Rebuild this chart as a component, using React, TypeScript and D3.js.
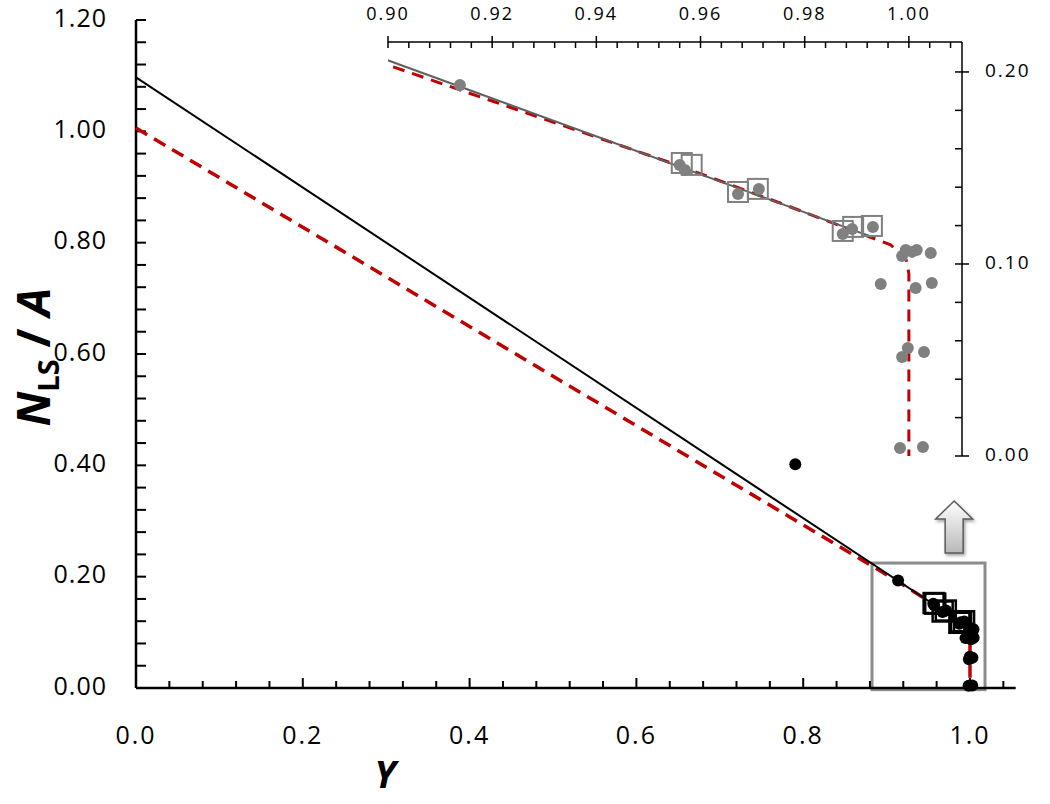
import React from 'react';
import * as d3 from 'd3';

// fitted lines
const fitY = [0, 0.993];
const fitN = [1.097, 0.114];
const modelY = [0, 0.9, 0.955, 0.975, 0.9965, 0.9995, 1.0, 1.0];
const modelN = [1.006, 0.2036, 0.152, 0.132, 0.11, 0.102, 0.095, 0];

// measured points
const dotY = [0.7905, 0.9138, 0.957, 0.956, 0.9672, 0.9712, 0.9873, 0.9891, 0.9931, 0.9987, 0.9994, 1.0006, 1.0015, 1.0042, 0.9946, 1.0013, 1.0044, 0.9998, 0.9987, 1.0029, 0.9983, 1.0027];
const dotN = [0.402, 0.1932, 0.149, 0.1515, 0.1365, 0.1391, 0.1156, 0.1182, 0.1193, 0.1042, 0.1073, 0.1063, 0.1073, 0.1057, 0.0896, 0.0875, 0.0901, 0.0563, 0.0516, 0.0542, 0.0042, 0.0047];
const squareY = [0.9564, 0.9583, 0.9672, 0.971, 0.9873, 0.9893, 0.9929];
const squareN = [0.1526, 0.1516, 0.1375, 0.1391, 0.1172, 0.1193, 0.1198];

// tick labels
const mainXLabels = ['0.0', '0.2', '0.4', '0.6', '0.8', '1.0'];
const mainYLabels = ['0.00', '0.20', '0.40', '0.60', '0.80', '1.00', '1.20'];
const insetXLabels = ['0.90', '0.92', '0.94', '0.96', '0.98', '1.00'];
const insetYLabels = ['0.00', '0.10', '0.20'];

// zoom box and arrow (data units of the main chart)
const boxY = [0.8825, 1.018];
const boxN = [-0.003, 0.2245];
const arrowY = 0.981;
const arrowN = [0.2425, 0.336];

const FONT = "'Open Sans', sans-serif";

const App = () => {
  const W = 1050, H = 804;

  const x = d3.scaleLinear().domain([0, 1.05]).range([136, 136 + 1.05 * 834]);
  const y = d3.scaleLinear().domain([0, 1.2]).range([688, 20]);

  const xi = d3.scaleLinear().domain([0.9, 1.0102]).range([388, 962]);
  const yi = d3.scaleLinear().domain([0, 0.2156]).range([456, 42]);

  const fit = fitY.map((v, i) => [v, fitN[i]] as [number, number]);
  const model = modelY.map((v, i) => [v, modelN[i]] as [number, number]);
  const dots = dotY.map((v, i) => [v, dotN[i]]);
  const squares = squareY.map((v, i) => [v, squareN[i]]);

  const lineMain = d3.line<[number, number]>().x(d => x(d[0])).y(d => y(d[1]));
  const lineInset = d3.line<[number, number]>().x(d => xi(d[0])).y(d => yi(d[1]));

  const mainXTicks = d3.range(0, 27).map(i => i * 0.04);
  const mainYTicks = d3.range(0, 31).map(i => i * 0.04);
  const insetXTicks = d3.range(0, 28).map(i => 0.9 + i * 0.004);
  const insetYTicks = d3.range(0, 11).map(i => i * 0.02);

  const isMajor = (v: number, step: number) => Math.abs(v / step - Math.round(v / step)) < 1e-6;

  // arrow geometry
  const ax = x(arrowY);
  const aBase = y(arrowN[0]);
  const aTip = y(arrowN[1]);
  const arrowPath = `M${ax},${aTip} L${ax + 18.5},${aTip + 18} L${ax + 9},${aTip + 18} L${ax + 9},${aBase} L${ax - 9},${aBase} L${ax - 9},${aTip + 18} L${ax - 18.5},${aTip + 18} Z`;

  return (
    <svg width={W} height={H} style={{ position: 'absolute', left: 0, top: 0, background: '#fff' }} fontFamily={FONT}>
      <defs>
        <clipPath id="insetClip">
          <rect x={xi(0.9)} y={yi(0.2156)} width={xi(1.0102) - xi(0.9)} height={yi(0) - yi(0.2156)} />
        </clipPath>
        <linearGradient id="arrowGrad" x1="0" y1="0" x2="0" y2="1">
          <stop offset="0%" stopColor="#ffffff" />
          <stop offset="100%" stopColor="#b8b8b8" />
        </linearGradient>
        <filter id="shadow" x="-30%" y="-30%" width="160%" height="160%">
          <feDropShadow dx="1.5" dy="2" stdDeviation="1.5" floodColor="#000" floodOpacity="0.35" />
        </filter>
      </defs>

      {/* ---------- main chart ---------- */}
      <rect x={x(boxY[0])} y={y(boxN[1])} width={x(boxY[1]) - x(boxY[0])} height={y(boxN[0]) - y(boxN[1])}
        fill="none" stroke="#8c8c8c" strokeWidth={3} />

      <path d={arrowPath} fill="url(#arrowGrad)" stroke="#5a5a5a" strokeWidth={1.5} filter="url(#shadow)" />

      {/* axes */}
      <line x1={x(0)} x2={x(1.05) + 4} y1={y(0)} y2={y(0)} stroke="#000" strokeWidth={2.5} />
      <line x1={x(0)} x2={x(0)} y1={y(0)} y2={y(1.2)} stroke="#000" strokeWidth={2.5} />
      {mainXTicks.map((v, i) => (
        <line key={'mx' + i} x1={x(v)} x2={x(v)} y1={y(0)} y2={y(0) - (isMajor(v, 0.2) ? 10 : 7)} stroke="#000" strokeWidth={2} />
      ))}
      {mainYTicks.map((v, i) => (
        <line key={'my' + i} x1={x(0)} x2={x(0) + 10} y1={y(v)} y2={y(v)} stroke="#000" strokeWidth={2} />
      ))}
      {mainXLabels.map((t, i) => (
        <text key={'mxl' + i} x={x(i * 0.2)} y={737} textAnchor="middle" dominantBaseline="middle" fontSize={25} letterSpacing={2}>{t}</text>
      ))}
      {mainYLabels.map((t, i) => (
        <text key={'myl' + i} x={107} y={y(i * 0.2)} textAnchor="end" dominantBaseline="middle" fontSize={25} letterSpacing={1}>{t}</text>
      ))}
      <text x={385} y={788} textAnchor="middle" fontSize={38} fontWeight="bold" fontStyle="italic">Y</text>
      <text transform="translate(50,357) rotate(-90)" textAnchor="middle" fontSize={46} fontWeight="bold">
        <tspan fontStyle="italic">N</tspan>
        <tspan fontSize={29} dy={9}>LS</tspan>
        <tspan dy={-9}> / </tspan>
        <tspan fontStyle="italic">A</tspan>
      </text>

      {/* series */}
      <path d={lineMain(model) || ''} fill="none" stroke="#c00000" strokeWidth={3.5} strokeDasharray="13,8" />
      <path d={lineMain(fit) || ''} fill="none" stroke="#000" strokeWidth={2} />
      {dots.map((d, i) => (
        <circle key={'md' + i} cx={x(d[0])} cy={y(d[1])} r={6} fill="#000" />
      ))}
      {squares.map((d, i) => (
        <rect key={'ms' + i} x={x(d[0]) - 10} y={y(d[1]) - 10} width={20} height={20} fill="none" stroke="#000" strokeWidth={2.5} />
      ))}

      {/* ---------- inset ---------- */}
      <line x1={xi(0.9)} x2={xi(1.0102)} y1={yi(0.2156)} y2={yi(0.2156)} stroke="#000" strokeWidth={1.5} />
      <line x1={xi(1.0102)} x2={xi(1.0102)} y1={yi(0.2156)} y2={yi(0)} stroke="#000" strokeWidth={1.5} />
      {insetXTicks.map((v, i) => {
        const major = isMajor(v, 0.02);
        return <line key={'ix' + i} x1={xi(v)} x2={xi(v)} y1={yi(0.2156) - (major ? 6 : 0)} y2={yi(0.2156) + 6} stroke="#000" strokeWidth={1.5} />;
      })}
      {insetYTicks.map((v, i) => {
        const major = isMajor(v, 0.1);
        return <line key={'iy' + i} x1={xi(1.0102) - 7} x2={xi(1.0102) + (major ? 7 : 0)} y1={yi(v)} y2={yi(v)} stroke="#000" strokeWidth={1.5} />;
      })}
      {insetXLabels.map((t, i) => (
        <text key={'ixl' + i} x={xi(0.9 + i * 0.02)} y={20} textAnchor="middle" fontSize={18} letterSpacing={2} fill="#000">{t}</text>
      ))}
      {insetYLabels.map((t, i) => (
        <text key={'iyl' + i} x={985} y={yi(i * 0.1)} textAnchor="start" dominantBaseline="middle" fontSize={19} letterSpacing={2} fill="#000">{t}</text>
      ))}

      <g clipPath="url(#insetClip)">
        <path d={lineInset(model) || ''} fill="none" stroke="#c00000" strokeWidth={3} strokeDasharray="12,8" />
        <path d={lineInset(fit) || ''} fill="none" stroke="#606060" strokeWidth={2} />
      </g>
      {dots.filter(d => d[0] >= 0.9).map((d, i) => (
        <circle key={'id' + i} cx={xi(d[0])} cy={yi(d[1])} r={6} fill="#808080" />
      ))}
      {squares.map((d, i) => (
        <rect key={'is' + i} x={xi(d[0]) - 10} y={yi(d[1]) - 10} width={20} height={20} fill="none" stroke="#808080" strokeWidth={2} />
      ))}
    </svg>
  );
};

export default App;
